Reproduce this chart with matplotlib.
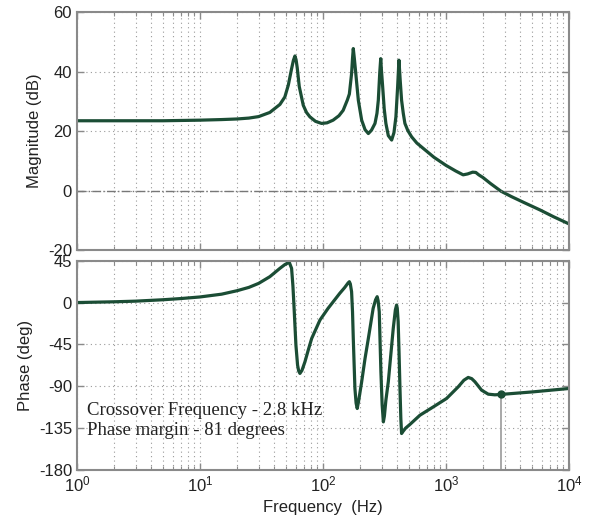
import numpy as np
import matplotlib
matplotlib.use('Agg')
import matplotlib.pyplot as plt

# Bode data
mag_freq = [1, 2, 5, 10, 15, 20, 25, 30, 37, 44.7, 49, 52.3, 55.6, 57.5, 59.2, 60.5, 61.8,
            64.2, 69.2, 73.5, 78.4, 87, 97.5, 108, 121, 135, 146, 158, 164, 171, 174,
            176.5, 180, 185, 194, 206.5, 220, 234, 248, 265, 275, 282, 290, 295, 299, 306,
            315, 325, 340, 362, 378, 392, 405, 415, 425, 436, 450, 464, 490, 526, 580, 654,
            800, 1000, 1200, 1380, 1500, 1650, 1750, 1850, 2000, 2300, 2800, 3400, 4300,
            5810, 7500, 10000]
mag_db = [23.5, 23.5, 23.5, 23.7, 23.9, 24.1, 24.4, 24.9, 26.3, 29.0, 31.5, 35.5, 41.0,
          43.8, 45.3, 44.0, 41.3, 35.0, 28.7, 26.3, 24.8, 23.3, 22.6, 22.8, 23.7, 25.2,
          27.0, 30.5, 32.5, 39.4, 44.5, 47.8, 44.5, 39.4, 30.4, 23.7, 20.5, 19.2, 20.3,
          22.6, 26.0, 30.4, 40.0, 44.4, 40.5, 34.9, 27.5, 22.6, 18.5, 17.0, 19.5, 24.8,
          35.0, 43.9, 37.0, 30.4, 26.0, 22.6, 20.2, 18.1, 16.0, 14.2, 11.2, 8.5, 6.6, 5.3,
          5.6, 6.2, 6.1, 5.3, 4.4, 2.4, -0.2, -2.0, -4.0, -6.5, -8.8, -11.2]

ph_freq = [1, 2, 3, 5, 7, 10, 15, 20, 25, 30, 37, 44.7, 49, 53.2, 55.6, 57, 58.1, 60.3,
           62.2, 63.5, 65, 67.5, 71.4, 76, 81, 94.6, 110, 137, 150, 160, 164, 167, 171, 174,
           176.5, 182, 186, 190, 195, 206.5, 220, 234, 256, 268, 276, 281, 287, 296, 303,
           310, 316, 325, 340, 373, 388, 397, 402, 409, 416, 423, 430, 436, 445, 470, 510,
           615, 789, 1013, 1259, 1400, 1518, 1620, 1722, 1950, 2208, 2500, 2785, 5129,
           10000]
ph_deg = [0, 0.8, 1.5, 3, 4.3, 6, 9, 12.7, 16.3, 20.6, 27.8, 36.8, 40.8, 43.3, 36.8, 18,
          -2.7, -45.8, -67.3, -73.5, -76.2, -73, -63.7, -51, -38.6, -18.8, -6.3, 9.9, 16,
          21, 22.4, 20, 11.6, -10, -38.6, -92.4, -108, -113.9, -106, -85.2, -60, -38.6,
          -6.3, 3, 6.3, 2, -9.9, -74.5, -110, -128.3, -122, -105, -85.2, -27.8, -8, -2.7,
          -6, -20.7, -55, -92.4, -125, -140.8, -139, -135, -131, -121.1, -112.2, -103.1,
          -90.6, -83.5, -80.5, -81.8, -85.2, -94.2, -98.5, -99.2, -98.8, -96, -92.4]

crossover_f = 2785
crossover_ph = -98.8

line_c = '#1b4d35'
spine_c = '#8a8a8a'
grid_c = '#9a9a9a'

plt.rcParams['font.family'] = ['Liberation Sans', 'DejaVu Sans']
plt.rcParams['mathtext.fontset'] = 'custom'
plt.rcParams['mathtext.rm'] = 'Liberation Sans'
plt.rcParams['mathtext.it'] = 'Liberation Sans:italic'
plt.rcParams['axes.unicode_minus'] = False

fig = plt.figure(figsize=(5.92, 5.26), dpi=100)
ax1 = fig.add_axes([0.130, 0.5247, 0.831, 0.4519])
ax2 = fig.add_axes([0.130, 0.1065, 0.831, 0.3979])

for ax in (ax1, ax2):
    ax.set_xscale('log')
    ax.set_xlim(1, 1e4)
    ax.grid(True, which='both', linestyle=(0, (1, 3)), color=grid_c, linewidth=0.8)
    ax.tick_params(which='both', direction='in', top=True, right=True, color=spine_c,
                   labelsize=12, labelcolor='#222222')
    ax.tick_params(which='major', length=5, width=1)
    ax.tick_params(which='minor', length=3, width=0.8)
    for s in ax.spines.values():
        s.set_color(spine_c)
        s.set_linewidth(1.5)

ax1.plot(mag_freq, mag_db, color=line_c, linewidth=2.3)
ax1.axhline(0, color='#777777', linestyle='-.', linewidth=1)
ax1.set_ylim(-20, 60)
ax1.set_yticks([-20, 0, 20, 40, 60])
ax1.tick_params(labelbottom=False)
ax1.set_ylabel('Magnitude (dB)', fontsize=12, color='#222222')

ax2.plot(ph_freq, ph_deg, color=line_c, linewidth=2.3)
ax2.axhline(-180, color='#bbbbbb', linestyle='-.', linewidth=2)
ax2.plot([crossover_f, crossover_f], [-180, crossover_ph], color='#999999', linewidth=1.2)
ax2.plot([crossover_f], [crossover_ph], 'o', color=line_c, markersize=5)
ax2.set_ylim(-180, 45)
ax2.set_yticks([-180, -135, -90, -45, 0, 45])
ax2.set_xticks([1, 10, 100, 1000, 10000])
ax2.set_xticklabels(['$10^{0}$', '$10^{1}$', '$10^{2}$', '$10^{3}$', '$10^{4}$'])
ax2.set_ylabel('Phase (deg)', fontsize=12, color='#222222')
ax2.set_xlabel('Frequency  (Hz)', fontsize=12, color='#222222')

ax2.text(1.2, -116.5, 'Crossover Frequency - 2.8 kHz', family='Liberation Serif',
         fontsize=13.5, color='#222222', va='center')
ax2.text(1.2, -138, 'Phase margin - 81 degrees', family='Liberation Serif',
         fontsize=13.5, color='#222222', va='center')

fig.savefig('out.png', dpi=100)
